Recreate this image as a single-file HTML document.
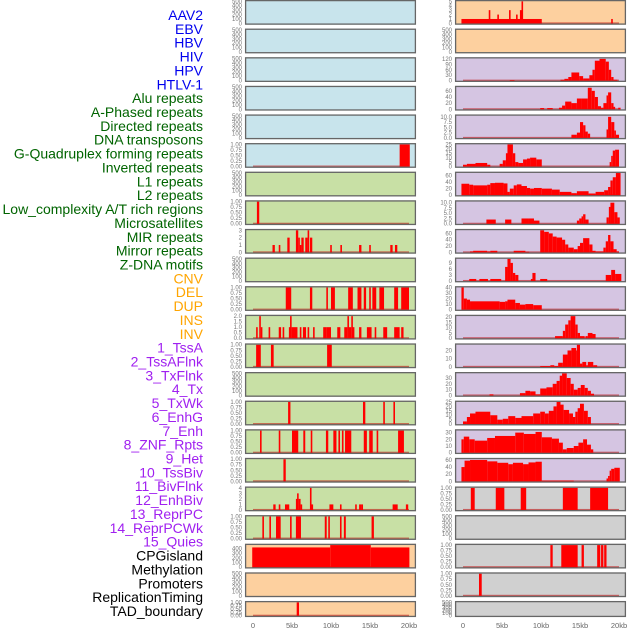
<!DOCTYPE html>
<html><head><meta charset="utf-8">
<style>
html,body{margin:0;padding:0;background:#fff;}
svg{display:block;font-family:"Liberation Sans",sans-serif;}
</style></head>
<body>
<svg id="chart" width="630" height="630" viewBox="0 0 630 630"></svg>
<script>
const labelTexts = ["AAV2","EBV","HBV","HIV","HPV","HTLV-1","Alu repeats","A-Phased repeats","Directed repeats","DNA transposons","G-Quadruplex forming repeats","Inverted repeats","L1 repeats","L2 repeats","Low_complexity A/T rich regions","Microsatellites","MIR repeats","Mirror repeats","Z-DNA motifs","CNV","DEL","DUP","INS","INV","1_TssA","2_TssAFlnk","3_TxFlnk","4_Tx","5_TxWk","6_EnhG","7_Enh","8_ZNF_Rpts","9_Het","10_TssBiv","11_BivFlnk","12_EnhBiv","13_ReprPC","14_ReprPCWk","15_Quies","CPGisland","Methylation","Promoters","ReplicationTiming","TAD_boundary"];
const labelColors = ["#0000ee","#0000ee","#0000ee","#0000ee","#0000ee","#0000ee","#006400","#006400","#006400","#006400","#006400","#006400","#006400","#006400","#006400","#006400","#006400","#006400","#006400","#ffa500","#ffa500","#ffa500","#ffa500","#ffa500","#a020f0","#a020f0","#a020f0","#a020f0","#a020f0","#a020f0","#a020f0","#a020f0","#a020f0","#a020f0","#a020f0","#a020f0","#a020f0","#a020f0","#a020f0","#000","#000","#000","#000","#000"];
const xTickValues = [0,5,10,15,20];
const xTickLabels = ["0","5kb","10kb","15kb","20kb"];
const T500=["0","100","200","300","400","500"], TB=["0.00","0.25","0.50","0.75","1.00"];
const leftBg = ["#c8e4ec","#c8e4ec","#c8e4ec","#c8e4ec","#c8e4ec","#c8e4ec","#c8e0a5","#c8e0a5","#c8e0a5","#c8e0a5","#c8e0a5","#c8e0a5","#c8e0a5","#c8e0a5","#c8e0a5","#c8e0a5","#c8e0a5","#c8e0a5","#c8e0a5","#fdd09f","#fdd09f","#fdd09f"];
const rightBg = ["#fdd09f","#fdd09f","#d5c5e2","#d5c5e2","#d5c5e2","#d5c5e2","#d5c5e2","#d5c5e2","#d5c5e2","#d5c5e2","#d5c5e2","#d5c5e2","#d5c5e2","#d5c5e2","#d5c5e2","#d5c5e2","#d5c5e2","#d0d0d0","#d0d0d0","#d0d0d0","#d0d0d0","#d0d0d0"];
const leftMax = [500,500,500,500,500,1,500,1,3,500,1,2,1,500,1,1,1,4,1,1,470,500,1];
leftMax.splice(19,1);
const leftTicks = [T500,T500,T500,T500,T500,TB,T500,TB,["0","1","2","3"],T500,TB,["0.0","0.5","1.0","1.5","2.0"],TB,T500,TB,TB,TB,["0","1","2","3","4"],TB,["0","100","200","300","400"],T500,TB];
const rightMax = [5,500,122,72,10.5,25,68,10.5,70,11,40,21,27,38,25,33,62,1,500,1,1,500];
const rightTicks = [["0","1","2","3","4","5"],T500,["0","30","60","90","120"],["0","20","40","60"],["0.0","2.5","5.0","7.5","10.0"],["0","5","10","15","20","25"],["0","20","40","60"],["0.0","2.5","5.0","7.5","10.0"],["0","20","40","60"],["0","3","6","9"],["0","10","20","30","40"],["0","5","10","15","20"],["0","10","20"],["0","10","20","30"],["0","5","10","15","20","25"],["0","10","20","30"],["0","20","40","60"],TB,T500,TB,TB,T500];
const leftSegs = [[],[],[],[],[],
[[18.8,20.1,1]],
[],
[[0.5,0.8,1]],
[[2.5,2.8,1],[3.3,3.5,1],[4.4,4.7,2],[5.5,5.8,3],[5.8,6,2],[6,6.2,1],[6.2,6.5,2],[6.7,7,2],[7,7.2,3],[7.3,7.6,2],[9.9,10.1,1],[11.2,11.4,1],[13.6,13.9,1],[14.9,15.1,1],[17.6,17.9,1],[18.2,18.5,1]],
[],
[[4.2,4.9,1],[7.3,7.6,1],[9.4,9.6,1],[10,10.5,1],[12.2,12.8,1],[13.4,13.9,1],[14.2,14.5,1],[14.9,15.1,1],[15.3,15.8,1],[16.2,16.8,1],[18.1,18.6,1],[19,20,1]],
[[0.4,0.6,1],[0.8,1,2],[1,1.2,1],[2,2.2,1],[3.3,3.6,1],[3.8,4,1],[4.6,4.75,1],[4.75,4.95,2],[4.95,5.7,1],[6,6.2,1],[6.4,6.8,1],[7,7.2,1],[7.7,7.9,1],[9,9.4,1],[9.4,10,1],[10.8,11.2,1],[11.7,12.1,1],[12.1,12.3,2],[12.3,12.6,1],[12.6,12.75,2],[12.75,13,1],[13.6,13.9,1],[14.6,15.2,1],[15.6,15.8,1],[16.7,17.2,1],[18.1,18.8,1],[19,19.3,1]],
[[0.4,1,1],[2.3,2.65,1],[9.5,10.1,1]],
[],
[[4.5,4.8,1],[14.1,14.4,1],[16.7,16.9,1],[18,18.2,1]],
[[0.9,1.1,1],[3.3,3.5,1],[5,5.8,1],[6.45,6.7,1],[7.4,7.55,1],[9.35,9.65,1],[10.3,10.7,1],[10.95,11.15,1],[11.4,11.6,1],[11.8,12.6,1],[14.2,14.6,1],[14.9,15.35,1],[15.85,16.05,1],[18.6,19.35,1]],
[[3.9,4.2,1]],
[[2.6,2.9,1],[3.3,3.5,1],[4.1,4.65,1],[5.5,5.65,2],[5.65,5.85,3],[5.85,6.1,2],[6.1,6.25,1],[7.3,7.5,4],[7.5,7.6,1],[9.8,10.3,1],[11.15,11.35,1],[13.1,13.3,1],[13.6,13.9,1],[13.9,14.1,1],[17.9,18.55,1],[19.6,19.9,1]],
[[1.2,1.4,1],[2.1,2.3,1],[2.95,3.55,1],[4.75,4.95,1],[5.5,6.15,1],[9.2,9.45,1],[9.65,9.85,1],[11.15,11.35,1],[11.65,11.9,1],[15.2,15.5,1]],
[[-0.1,9.9,420],[9.9,15.1,470],[15.1,20.05,420]],
[],
[[5.6,5.9,1]]];
const rightSegs = [
[[-0.2,10.1,1],[3.3,3.5,3],[4.4,4.6,2],[5.9,6.1,3],[6.8,7,2],[7.3,7.5,3],[7.5,7.6,5],[19,19.2,1]],
[],
[[6,6.6,3],[12.5,13,5],[13,13.5,10],[13.5,13.9,20],[13.9,14.9,45],[14.9,15.4,25],[15.4,16.2,12],[16.2,16.6,30],[16.6,16.9,60],[16.9,17.5,110],[17.5,18.3,120],[18.3,18.7,105],[18.7,19,60],[19,19.3,20],[19.3,19.8,5]],
[[9.9,10.4,4],[10.8,11.5,4],[12.3,12.7,5],[12.7,13.1,12],[13.1,13.9,25],[13.9,14.6,20],[14.6,15.2,35],[15.2,16,35],[16,16.5,70],[16.5,16.9,60],[16.9,17.3,40],[17.3,17.7,10],[17.7,18,5],[18,18.4,20],[18.4,18.6,45],[18.6,19,55],[19,19.3,20],[19.3,19.5,8],[19.9,20.2,5]],
[[13.9,14.6,1.5],[14.6,15,2.5],[15,15.4,7.5],[15.4,15.7,6],[15.7,16,3],[16,16.3,2],[18.4,18.6,4],[18.6,19,10],[19,19.4,7.5],[19.4,19.6,3.5],[19.6,20,1.5]],
[[0,0.5,2],[0.5,1.6,3],[1.6,3.1,4],[3.1,3.5,2],[4.7,5.1,3],[5.1,5.5,7],[5.5,5.7,15],[5.7,6.4,25],[6.4,6.7,15],[6.7,7.1,5],[7.1,7.7,4],[7.7,8.2,8],[8.2,8.6,9],[8.6,9.4,10],[9.4,10.1,8],[18.8,19,5],[19,19.2,12],[19.2,19.5,18],[19.5,20,19]],
[[-0.2,0.8,35],[0.8,1.3,32],[1.3,3.1,30],[3.1,3.5,32],[3.5,4.1,37],[4.1,5.2,38],[5.2,5.7,36],[5.7,6,10],[6,6.5,20],[6.5,6.9,30],[6.9,7.5,33],[7.5,8.2,28],[8.2,8.6,22],[8.6,9.1,20],[9.1,10.1,22],[10.1,11.4,20],[11.4,12.4,17],[12.4,13.9,10],[13.9,14.6,6],[14.6,16.1,12],[16.1,17,5],[17,18.1,10],[18.1,18.6,15],[18.6,18.9,25],[18.9,19.2,45],[19.2,19.6,55],[19.6,20.2,68]],
[[3,4.2,2],[5.4,6.2,2],[7.5,8.4,2.5],[8.4,9.1,2.5],[9.1,9.8,1.5],[14.6,14.9,1.5],[14.9,15.2,2.5],[15.2,15.4,3.5],[15.4,15.7,4.5],[15.7,16.1,2],[18.4,18.7,3],[18.7,18.9,8],[18.9,19.4,10],[19.4,19.8,5.5],[19.8,20.1,3]],
[[0.9,1.3,3],[1.3,3.1,5],[3.1,3.5,3],[3.5,4.4,5],[6.5,8,5],[8,8.5,2],[9.9,10.4,70],[10.4,11,65],[11,11.5,60],[11.5,12,50],[12,12.7,47],[12.7,13.1,40],[13.1,13.5,25],[13.5,14.2,15],[14.2,14.7,10],[14.7,15,20],[15,15.4,30],[15.4,16.2,45],[16.2,16.6,25],[16.6,17,5],[17,18,3],[18,18.3,15],[18.3,18.6,35],[18.6,18.9,55],[18.9,19.3,35],[19.3,19.7,10],[19.7,20,3]],
[[0.8,1.7,1],[2.1,3.2,1],[3.5,4.9,1],[5.4,5.7,7],[5.7,6.1,11],[6.1,6.4,9],[6.4,6.7,4],[6.7,7.1,3],[8.7,8.9,1],[8.9,9.3,4],[9.9,10.8,1],[18.3,19,3],[19,19.5,5.5],[19.5,20.3,3.5]],
[[-0.2,0.1,40],[0.1,0.5,20],[0.5,0.9,18],[0.9,4.7,15],[4.7,5.4,14],[5.4,5.7,15],[5.7,6.7,18],[6.7,7.3,12],[7.3,8,9],[8,9,10],[9,10.1,8]],
[[11.8,12.8,2],[12.8,13.1,7],[13.1,13.5,13],[13.5,13.8,17],[13.8,14.4,21],[14.4,14.7,13],[14.7,15,5],[15,15.6,2],[15.7,16,2],[16,16.6,5],[16.6,17,4]],
[[9.9,11.2,1],[11.2,11.7,2],[11.7,12.2,1],[12.2,12.8,5],[12.8,13.4,15],[13.4,13.9,20],[13.9,14.5,23],[14.5,14.6,20],[14.6,15,27],[15,15.3,4],[15.3,15.8,6],[15.8,16,2],[16,16.7,6],[16.7,17.2,2]],
[[3.4,3.9,2],[7.3,8,4],[8,8.6,8],[8.6,9.3,7],[9.3,9.9,2],[9.9,10.7,12],[10.7,11.5,14],[11.5,12,20],[12,12.4,25],[12.4,12.7,34],[12.7,13.3,38],[13.3,13.8,30],[13.8,14.2,20],[14.2,14.7,10],[14.7,15.1,13],[15.1,15.6,18],[15.6,16,13],[16,16.4,8],[16.4,16.8,3]],
[[0,0.5,3],[0.5,0.9,8],[0.9,1.6,12],[1.6,3.5,14],[3.5,4.4,10],[4.4,5.1,5],[5.1,5.8,6],[5.8,6.7,9],[6.7,7.5,7],[7.5,9,9],[9,9.9,12],[9.9,10.5,14],[10.5,11,12],[11,11.6,15],[11.6,12,20],[12,12.5,25],[12.5,12.9,22],[12.9,13.6,16],[13.6,14.1,12],[14.1,14.4,8],[14.4,14.7,14],[14.7,15,18],[15,15.5,23],[15.5,16,15],[16,16.4,8]],
[[-0.2,0.1,20],[0.1,0.8,24],[0.8,1.5,20],[1.5,3.1,18],[3.1,4.1,22],[4.1,6.7,25],[6.7,7.8,30],[7.8,9.3,28],[9.3,10.1,31],[10.1,11.4,23],[11.4,12.3,21],[12.3,12.8,15],[12.8,13.3,5],[13.3,14.2,7],[14.2,14.8,10],[14.8,15.4,15],[15.4,15.9,20],[15.9,16.4,12],[16.4,16.7,5]],
[[-0.2,0.2,40],[0.2,0.9,58],[0.9,3.1,60],[3.1,4.4,56],[4.4,5.8,52],[5.8,6.4,48],[6.4,7.7,52],[7.7,8.4,48],[8.4,9.3,53],[9.3,10.1,55],[10.1,14.2,2],[18.4,18.6,8],[18.6,18.8,15],[18.8,19,30],[19,19.4,35],[19.4,20.1,38]],
[[1,1.5,1],[4.2,5.3,1],[7.4,8.1,1],[12.8,14.7,1],[16.3,18.6,1]],
[],
[[11.2,11.5,1],[12.6,14.7,1],[15.2,15.5,1],[17.2,17.6,1],[17.7,18,1],[18.1,18.4,1]],
[[2.05,2.4,1]],
[]];

const svg = document.getElementById('chart');
const NS = "http://www.w3.org/2000/svg";
function mk(tag, attrs, parent){const e=document.createElementNS(NS,tag);for(const k in attrs)e.setAttribute(k,attrs[k]);(parent||svg).appendChild(e);return e;}

// labels
labelTexts.forEach((t,i)=>{
  const e=mk('text',{x:203,y:15+i*13.86+5,'text-anchor':'end','font-size':14,fill:labelColors[i]});
  e.textContent=t;
  
  
});

const cols = [{x0:245,x1:416,zero:253,bg:leftBg,max:leftMax,ticks:leftTicks,segs:leftSegs,name:'left'},
              {x0:455,x1:626,zero:463,bg:rightBg,max:rightMax,ticks:rightTicks,segs:rightSegs,name:'right'}];
const kbPx = 7.8;
cols.forEach(c=>{
  const xs = v => c.zero + v*kbPx;
  for(let r=0;r<22;r++){
    const T = r*28.62, H = (r===21)?16:24.7;
    const ys = v => (T+H-1.3) - v/c.max[r]*(H-2.6);
    const g = mk('g',{});
    
    
    mk('rect',{x:c.x0,y:T,width:c.x1-c.x0,height:H,fill:c.bg[r]},g);
    const segs=c.segs[r];
    if(segs.length){
      mk('rect',{x:xs(0),y:ys(0)-1,width:xs(20)-xs(0),height:1.6,fill:'rgba(190,0,0,0.55)'},g);
    }
    segs.forEach(s=>{
      const w=Math.max(1.6,xs(s[1])-xs(s[0]));
      const b=mk('rect',{x:xs(s[0]),y:ys(s[2]),width:w,height:ys(0)-ys(s[2])+0.5,fill:'#ff0000'},g);
      
      
    });
    mk('rect',{x:c.x0+0.6,y:T+0.6,width:c.x1-c.x0-1.2,height:H-1.2,fill:'none',stroke:'#666','stroke-width':1.3},g);
    c.ticks[r].forEach(tl=>{
      const v=parseFloat(tl);
      const t=mk('text',{x:c.x0-3,y:ys(v)+2,'text-anchor':'end','font-size':6,fill:'#777'},g);
      t.textContent=tl;
      
      
    });
  }
  xTickValues.forEach((v,i)=>{
    const t=mk('text',{x:xs(v),y:628,'text-anchor':'middle','font-size':7.5,fill:'#666'});
    t.textContent=xTickLabels[i];
    
    
  });
});
</script>
</body></html>
